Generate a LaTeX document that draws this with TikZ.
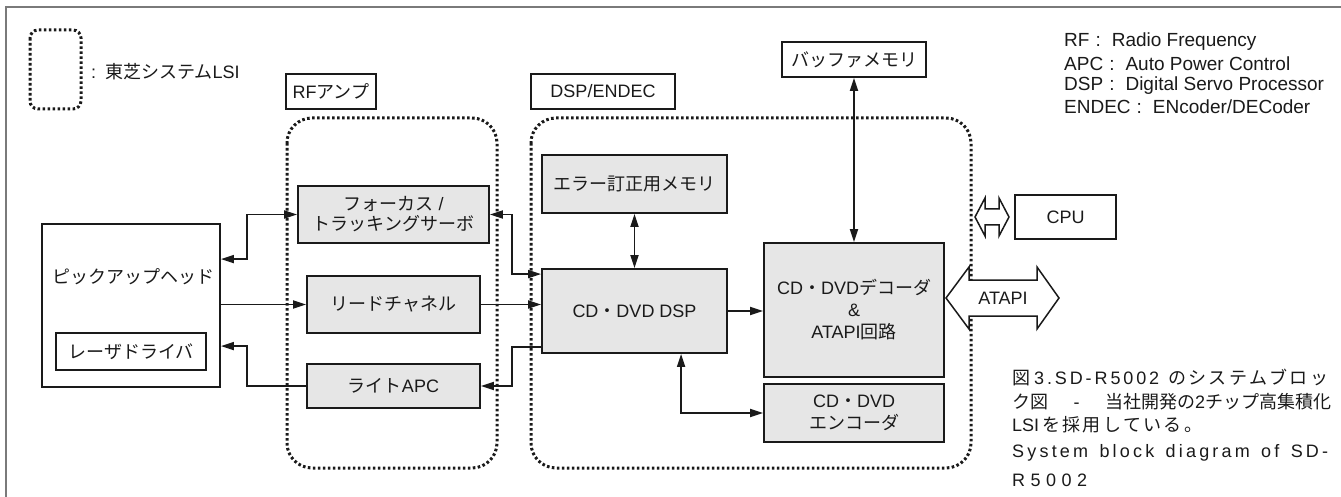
\documentclass[tikz,border=0pt]{standalone}
\usepackage{fontspec}
\setmainfont{Liberation Sans}
\newfontfamily\jpf{Noto Sans CJK JP}
\usetikzlibrary{arrows.meta,calc}

\definecolor{boxgray}{HTML}{E6E6E6}
\definecolor{ink}{HTML}{1A1A1A}
\definecolor{framegray}{HTML}{7A7A7A}

\def\spr#1{#1\sprx}
\def\sprx#1{\ifx\relax#1\else\hfil#1\expandafter\sprx\fi}

\tikzset{
  txt/.style={font=\fontsize{18}{21}\selectfont, text=ink},
  box/.style={txt, draw=ink, line width=1.8pt, fill=boxgray, inner sep=0pt, align=center},
  wbox/.style={box, fill=white},
  lsi/.style={draw=ink, line width=3pt, dash pattern=on 2.6pt off 2.4pt, rounded corners=25pt},
  conn/.style={draw=ink, line width=1.8pt, -{Triangle[length=13pt,width=8pt]}},
  conn2/.style={draw=ink, line width=1.8pt, {Triangle[length=13pt,width=8pt]}-{Triangle[length=13pt,width=8pt]}},
  lbl/.style={txt, inner sep=0pt},
  leg/.style={lbl, anchor=west, font=\fontsize{19}{22}\selectfont},
  bigarrow/.style={draw=ink, line width=1.5pt, fill=white, line join=miter}
}

\begin{document}
\begin{tikzpicture}[x=1pt,y=-1pt]
\useasboundingbox (0,0) rectangle (1341,497);
\fill[white] (0,0) rectangle (1341,497);

% outer frame
\draw[framegray, line width=2pt] (6,497) -- (6,7) -- (1341,7);

% legend
\draw[lsi, rounded corners=8pt] (30,30) rectangle (81,109);
\node[lbl, anchor=west] (lsitext) at (91,72) {:\hspace{9pt}{\jpf 東芝システム}LSI};

% chip outlines
\draw[lsi] (287,118) rectangle (497,468);
\draw[lsi] (531,118) rectangle (971,468);

% labels above chips
\node[wbox, minimum width=90pt, minimum height=35pt] (rflabel) at (331,91.5) {RF{\jpf アンプ}};
\node[wbox, minimum width=144pt, minimum height=35pt] (dsplabel) at (603,91.5) {DSP/ENDEC};

% pickup head
\node[wbox, minimum width=178pt, minimum height=163pt] (pickup) at (131,305.5) {};
\node[lbl] (pickuptext) at (133,277) {\jpf ピックアップヘッド};
\node[wbox, minimum width=150pt, minimum height=37pt] (laser) at (131,351.5) {\jpf レーザドライバ};

% RF amp blocks
\node[box, minimum width=191pt, minimum height=57pt] (focus) at (393.5,214.5) {{\jpf フォーカス} /\\[-1pt]{\jpf トラッキングサーボ}};
\node[box, minimum width=173pt, minimum height=57pt] (read) at (393.5,304.5) {\jpf リードチャネル};
\node[box, minimum width=173pt, minimum height=44pt] (light) at (393.5,386) {{\jpf ライト}APC};

% DSP/ENDEC blocks
\node[box, minimum width=185pt, minimum height=58pt] (errmem) at (634.5,184) {\jpf エラー訂正用メモリ};
\node[box, minimum width=185pt, minimum height=84pt] (dsp) at (634.5,311) {CD{\jpf ・}DVD DSP};
\node[box, minimum width=180pt, minimum height=134pt] (decoder) at (854,310) {CD{\jpf ・}DVD{\jpf デコーダ}\\[1pt]\&\\[1pt]ATAPI{\jpf 回路}};
\node[box, minimum width=180pt, minimum height=58pt] (encoder) at (854,413) {CD{\jpf ・}DVD\\[1pt]{\jpf エンコーダ}};
\node[wbox, minimum width=144pt, minimum height=35pt] (buffer) at (854,59.5) {\jpf バッファメモリ};
\node[wbox, minimum width=101pt, minimum height=44pt] (cpu) at (1065.5,217) {CPU};

% bus arrows
\draw[bigarrow] (946,298) -- (969,267) -- (969,280) -- (1037,280) -- (1037,267) -- (1059,298)
  -- (1037,329) -- (1037,316) -- (969,316) -- (969,329) -- cycle;
\node[lbl] (atapi) at (1003,298) {ATAPI};
\draw[bigarrow] (975,217) -- (985,198) -- (985,209) -- (999,209) -- (999,198) -- (1009,217)
  -- (999,236) -- (999,225) -- (985,225) -- (985,236) -- cycle;

% connectors
\draw[conn2] (focus.west) -| ($(pickup.north east)+(26,36)$) -- ($(pickup.north east)+(0,36)$);
\draw[conn] (pickup.east |- read.west) -- (read.west);
\draw[conn] (light.west) -| ($(pickup.north east)+(26,123)$) -- ($(pickup.north east)+(0,123)$);
\draw[conn2] (focus.east) -| ($(dsp.north west)+(-29,6)$) -- ($(dsp.north west)+(0,6)$);
\draw[conn] (read.east) -- (read.east -| dsp.west);
\draw[conn] ($(dsp.south west)+(0,-7)$) -- ++(-29,0) |- (light.east);
\draw[conn2] (errmem.south) -- (dsp.north);
\draw[conn] (dsp.east) -- (dsp.east -| decoder.west);
\draw[conn2] (buffer.south) -- (decoder.north);
\draw[conn2] ($(dsp.south west)+(140,0)$) |- (encoder.west);

% abbreviations
\node[leg] (leg1) at (1064,42) {RF\hspace{6pt}:\hspace{11pt}Radio Frequency};
\node[leg] (leg2) at (1064,64) {APC\hspace{6pt}:\hspace{11pt}Auto Power Control};
\node[leg] (leg3) at (1064,85.5) {DSP\hspace{6pt}:\hspace{11pt}Digital Servo Processor};
\node[leg] (leg4) at (1064,107) {ENDEC\hspace{6pt}:\hspace{11pt}ENcoder/DECoder};

% caption
\node[lbl, anchor=west] (cap1) at (1012,377) {\hbox to 316pt{{\jpf 図}\hskip 4pt\hbox to 125pt{\spr 3.SD-R5002\relax}\hfil\hbox to 160pt{\jpf\spr のシステムブロッ\relax}}};
\node[lbl, anchor=west] (cap2) at (1012,402) {\hbox to 316pt{{\jpf ク図}\hfill-\hfill\hbox to 223pt{{\jpf\spr 当社開発の\relax}\hfil 2\hfil{\jpf\spr チップ高集積化\relax}}}};
\node[lbl, anchor=west] (cap3) at (1012,425) {\hbox to 190pt{LSI\hskip 3pt\hbox to 160pt{\jpf\spr を採用している。\relax}}};
\node[lbl, anchor=west] (cap4) at (1012,453) {\hbox to 316pt{\spr System~block~diagram~of~SD-\relax}};
\node[lbl, anchor=west] (cap5) at (1012,480) {\hbox to 75pt{\spr R5002\relax}};
\end{tikzpicture}
\end{document}
